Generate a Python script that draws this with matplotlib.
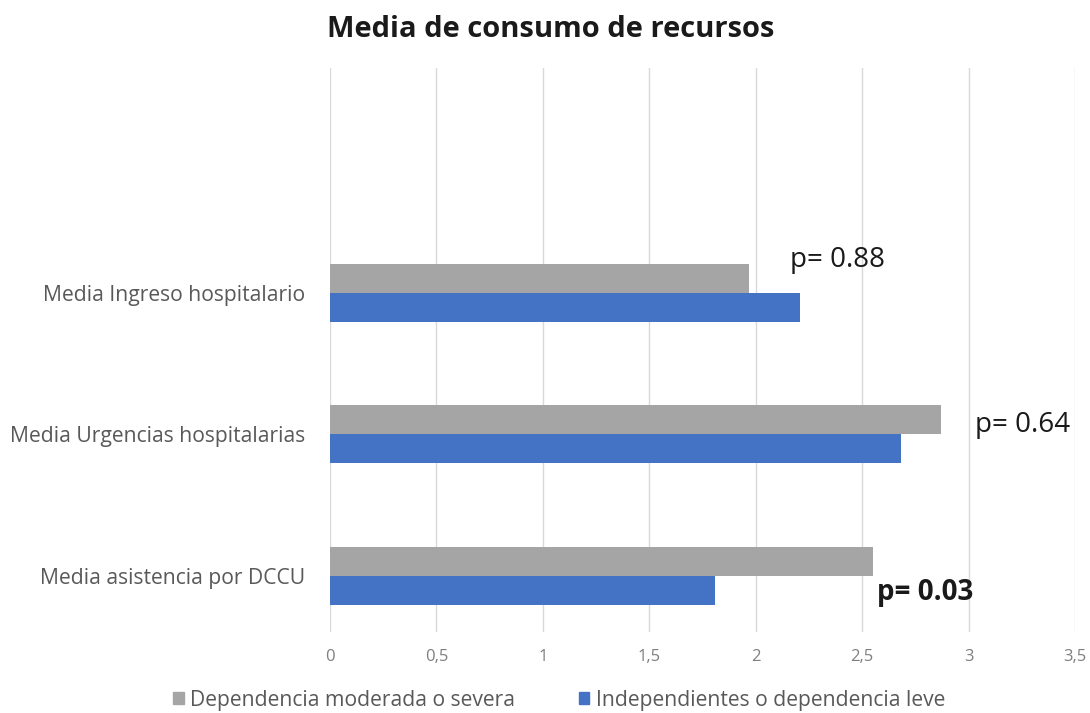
import matplotlib
matplotlib.use("Agg")
import matplotlib.pyplot as plt
from matplotlib.patches import Patch

plt.rcParams['font.family'] = ['Open Sans', 'DejaVu Sans']

categories = ["Media asistencia por DCCU", "Media Urgencias hospitalarias", "Media Ingreso hospitalario"]
grave = [2.55, 2.87, 1.97]
leve = [1.81, 2.68, 2.21]
series_names = ["Dependencia moderada o severa", "Independientes o dependencia leve"]
p_labels = ["p= 0.03", "p= 0.64", "p= 0.88"]
p_x = [2.57, 3.03, 2.16]
p_y_off = [-0.12, 0.07, 0.23]
p_bold = [True, False, False]
xticks = [0, 0.5, 1, 1.5, 2, 2.5, 3, 3.5]
xtick_labels = ["0", "0,5", "1", "1,5", "2", "2,5", "3", "3,5"]

GRAY = "#A5A5A5"
BLUE = "#4472C4"

fig = plt.figure(figsize=(10.9, 7.13), dpi=100)
ax = fig.add_axes([0.3028, 0.1136, 0.6835, 0.791])

h = 0.205
ys = list(range(len(categories)))
ax.barh([y + h / 2 for y in ys], grave, height=h, color=GRAY, zorder=3)
ax.barh([y - h / 2 for y in ys], leve, height=h, color=BLUE, zorder=3)

ax.set_xlim(0, 3.5)
ax.set_ylim(-0.396, 3.59)
ax.set_xticks(xticks)
ax.set_xticklabels(xtick_labels, color="#7f7f7f", fontsize=12)
ax.set_yticks(ys)
ax.set_yticklabels(categories, color="#595959", fontsize=15.2)
ax.tick_params(axis='both', length=0)
ax.tick_params(axis='y', pad=18)
ax.tick_params(axis='x', pad=12)
ax.grid(axis='x', color="#d9d9d9", linewidth=1, zorder=0)
for s in ax.spines.values():
    s.set_visible(False)

for lbl, x, y, off, b in zip(p_labels, p_x, ys, p_y_off, p_bold):
    ax.text(x, y + off, lbl, fontsize=20, va='center', ha='left',
            fontweight='bold' if b else 'normal', color="#1a1a1a")

fig.text(0.505, 0.958, "Media de consumo de recursos", ha='center', va='center',
         fontsize=21, fontweight='bold', color="#1a1a1a")

handles = [Patch(color=GRAY), Patch(color=BLUE)]
fig.legend(handles, series_names, loc='center', bbox_to_anchor=(0.513, 0.018),
           ncol=2, frameon=False, fontsize=15.2, labelcolor="#595959",
           handlelength=0.5, handleheight=0.5, handletextpad=0.3, columnspacing=3)

fig.savefig("out.png", dpi=100)
